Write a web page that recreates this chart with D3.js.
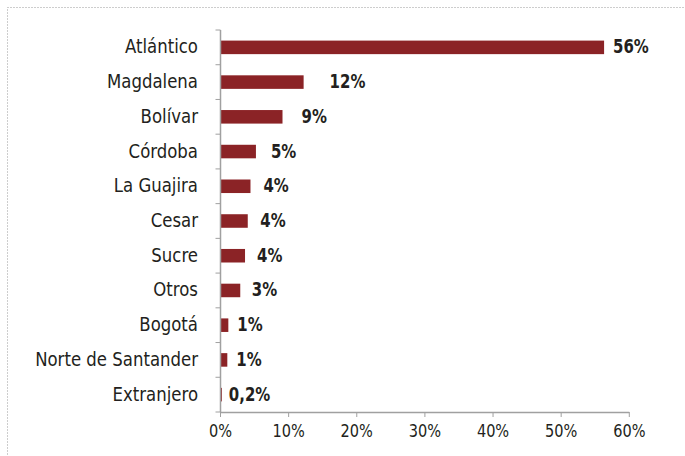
<!DOCTYPE html>
<head>
    <meta charset="utf-8">
    <script src="https://cdn.jsdelivr.net/npm/d3@7"></script>
    <style>
        body { margin: 0; background: #fff; }
        text { font-family: "DejaVu Sans Condensed", "DejaVu Sans", sans-serif; fill: #231f20; }
    </style>
</head>
<body>
<script>

    // data
    var categories = ["Atlántico", "Magdalena", "Bolívar", "Córdoba", "La Guajira", "Cesar",
                      "Sucre", "Otros", "Bogotá", "Norte de Santander", "Extranjero"];
    var values = [56.3, 12.2, 9.1, 5.2, 4.4, 4.0, 3.6, 2.9, 1.15, 1.0, 0.2];
    var valueLabels = ["56%", "12%", "9%", "5%", "4%", "4%", "4%", "3%", "1%", "1%", "0,2%"];
    var xTicks = [0, 10, 20, 30, 40, 50, 60];

    // label gap after the bar end (labels were nudged by hand in the original)
    var labelGap = [9, 26, 19, 15, 13, 12.5, 12, 11.5, 9, 9, 7];

    var svg = d3.select("body").append("svg")
        .attr("width", 685)
        .attr("height", 456);

    // dotted frame
    svg.append("rect")
        .attr("x", 7.5).attr("y", 7.5)
        .attr("width", 700).attr("height", 500)
        .style("fill", "none")
        .style("stroke", "#9a9a9a")
        .style("stroke-width", 1)
        .style("stroke-dasharray", "1,2");

    var x = d3.scaleLinear().domain([0, 60]).range([220.5, 629.3]);
    var y = d3.scaleBand().domain(categories).range([30, 412]).paddingInner(0.61).paddingOuter(0.305);
    var yTicks = d3.scaleBand().domain(categories).range([30, 412]);

    var axisColor = "#a0a0a0";

    // font is a condensed face in the original, squeeze DejaVu a bit
    function squeeze(sx) {
        return function(sel) {
            sel.attr("transform", function() {
                var t = d3.select(this);
                var px = +t.attr("x"), py = +t.attr("y");
                t.attr("x", 0).attr("y", 0);
                return "translate(" + px + "," + py + ") scale(" + sx + ",1)";
            });
        };
    }

    // bars
    svg.selectAll("rect.bar").data(values).enter().append("rect")
        .attr("class", "bar")
        .attr("x", x(0))
        .attr("y", function(d, i) { return y(categories[i]); })
        .attr("width", function(d) { return x(d) - x(0); })
        .attr("height", y.bandwidth())
        .style("fill", "#8b2326");

    // y axis line + ticks at band borders
    svg.append("line")
        .attr("x1", x(0)).attr("x2", x(0))
        .attr("y1", 30).attr("y2", 412)
        .style("stroke", axisColor).style("stroke-width", 1.5);
    var borders = categories.map(function(c) { return yTicks(c); }).concat([412]);
    svg.selectAll("line.ytick").data(borders).enter().append("line")
        .attr("class", "ytick")
        .attr("x1", x(0) - 5).attr("x2", x(0))
        .attr("y1", function(d) { return d; }).attr("y2", function(d) { return d; })
        .style("stroke", axisColor).style("stroke-width", 1);

    // x axis
    svg.append("line")
        .attr("x1", x(0)).attr("x2", x(60))
        .attr("y1", 412.5).attr("y2", 412.5)
        .style("stroke", axisColor).style("stroke-width", 1.5);
    svg.selectAll("line.xtick").data(xTicks).enter().append("line")
        .attr("class", "xtick")
        .attr("x1", function(d) { return x(d); }).attr("x2", function(d) { return x(d); })
        .attr("y1", 412).attr("y2", 417)
        .style("stroke", axisColor).style("stroke-width", 1);
    svg.selectAll("text.xlab").data(xTicks).enter().append("text")
        .attr("class", "xlab")
        .attr("x", function(d) { return x(d); })
        .attr("y", 437)
        .style("font-size", "17px")
        .style("text-anchor", "middle")
        .text(function(d) { return d + "%"; })
        .call(squeeze(0.95));

    // category labels
    svg.selectAll("text.cat").data(categories).enter().append("text")
        .attr("class", "cat")
        .attr("x", 198)
        .attr("y", function(d) { return y(d) + y.bandwidth() / 2 + 6; })
        .style("font-size", "20px")
        .style("text-anchor", "end")
        .text(function(d) { return d; })
        .call(squeeze(0.92));

    // value labels
    svg.selectAll("text.val").data(values).enter().append("text")
        .attr("class", "val")
        .attr("x", function(d, i) { return x(d) + labelGap[i]; })
        .attr("y", function(d, i) { return y(categories[i]) + y.bandwidth() / 2 + 6; })
        .style("font-size", "20px")
        .style("font-weight", "bold")
        .text(function(d, i) { return valueLabels[i]; })
        .call(squeeze(0.83));

</script>
</body>
